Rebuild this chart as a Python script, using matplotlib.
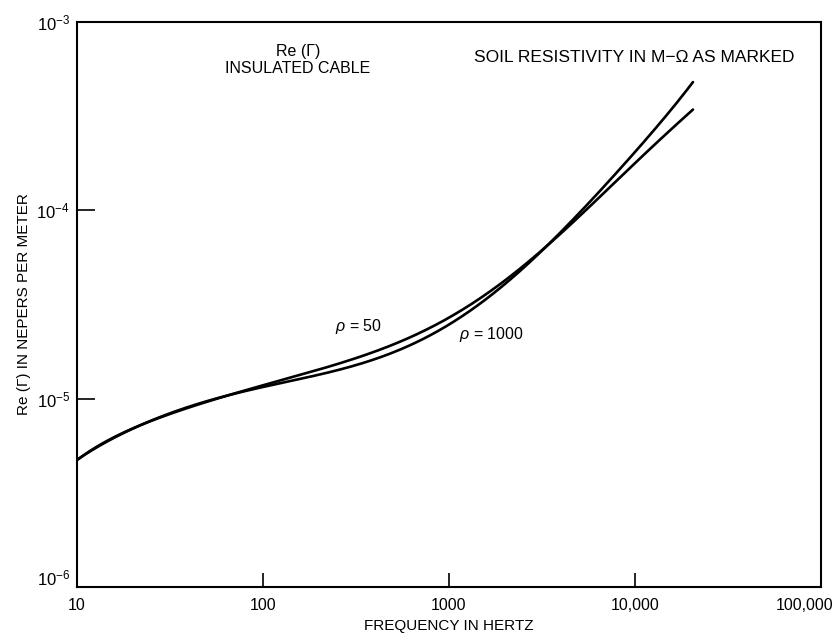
import numpy as np
import matplotlib
matplotlib.use("Agg")
from matplotlib import pyplot
from matplotlib.transforms import ScaledTranslation

# values
freq_common = [10, 13.8, 21, 31.6, 47.5, 72.4, 109]
gamma_common = [4.72e-6, 5.81e-6, 7.06e-6, 8.39e-6, 9.48e-6, 1.07e-5, 1.18e-5]

freq_rho50 = [123, 186, 283, 426, 640, 861, 1346, 2050, 2725, 3490, 5060, 9400, 14150, 20500]
gamma_rho50 = [1.26e-5, 1.42e-5, 1.60e-5, 1.81e-5, 2.10e-5, 2.52e-5, 3.26e-5,
               4.26e-5, 5.31e-5, 6.95e-5, 9.33e-5, 1.64e-4, 2.51e-4, 3.41e-4]

freq_rho1000 = [123, 186, 283, 426, 640, 895, 1346, 2050, 2725, 3490, 5060, 9400, 14150, 20500]
gamma_rho1000 = [1.21e-5, 1.33e-5, 1.47e-5, 1.64e-5, 1.88e-5, 2.40e-5, 3.03e-5,
                 4.16e-5, 5.2e-5, 6.95e-5, 9.44e-5, 1.94e-4, 3.02e-4, 4.8e-4]

x_ticks = [10, 100, 1000, 10000, 100000]
x_tick_labels = ["10", "100", "1000", "10,000", "100,000"]
y_ticks = [1e-6, 1e-5, 1e-4, 1e-3]
y_tick_labels = ["$10^{-6}$", "$10^{-5}$", "$10^{-4}$", "$10^{-3}$"]

pyplot.rcParams["font.family"] = ["Liberation Sans", "DejaVu Sans"]
pyplot.rcParams["mathtext.fontset"] = "custom"
pyplot.rcParams["mathtext.rm"] = "Liberation Sans"
pyplot.rcParams["mathtext.it"] = "Liberation Sans:italic"

fig = pyplot.figure(figsize=(8.34, 6.38), dpi=100)
ax = fig.add_axes([0.0923, 0.0799, 0.8921, 0.8856])


def smooth(fx, fy, deg=7):
    # least-squares smoothing of the hand-read points in log-log space
    lx = np.log10(fx)
    ly = np.log10(fy)
    t = np.linspace(lx[0], lx[-1], 400)
    coeffs = np.polyfit(lx, ly, deg)
    return 10 ** t, 10 ** np.polyval(coeffs, t)


for fr, ga in ((freq_rho50, gamma_rho50), (freq_rho1000, gamma_rho1000)):
    sx, sy = smooth(freq_common + fr, gamma_common + ga)
    ax.plot(sx, sy, color="black", lw=1.9, solid_capstyle="round")

ax.set_xscale("log")
ax.set_yscale("log")
ax.set_xlim(10, 100000)
ax.set_ylim(1e-6, 1e-3)

ax.set_xticks(x_ticks)
ax.set_xticklabels(x_tick_labels, fontsize=11.5)
ax.set_yticks(y_ticks)
ax.set_yticklabels(y_tick_labels, fontsize=12)
ax.minorticks_off()
ax.tick_params(axis="x", direction="in", length=10, width=1.2, pad=8)
ax.tick_params(axis="y", direction="in", length=13, width=1.2, pad=5)
for spine in ax.spines.values():
    spine.set_linewidth(1.5)

xlabels = ax.get_xticklabels()
xlabels[-1].set_transform(xlabels[-1].get_transform()
                          + ScaledTranslation(-0.16, 0, fig.dpi_scale_trans))
ylabels = ax.get_yticklabels()
ylabels[0].set_transform(ylabels[0].get_transform()
                         + ScaledTranslation(0, 0.1, fig.dpi_scale_trans))

ax.set_xlabel("FREQUENCY IN HERTZ", fontsize=11, labelpad=4)
ax.set_ylabel("Re (Γ) IN NEPERS PER METER", fontsize=11, labelpad=4)

ax.text(0.297, 0.905, "Re (Γ)\nINSULATED CABLE", transform=ax.transAxes,
        ha="center", va="bottom", fontsize=11.5, linespacing=1.15)
ax.text(0.964, 0.937, "SOIL RESISTIVITY IN M−Ω AS MARKED", transform=ax.transAxes,
        ha="right", va="center", fontsize=12.5)
ax.text(244, 2.43e-5, "$\\it{\\rho}$ = 50", fontsize=11.5, ha="left", va="center")
ax.text(1132, 2.2e-5, "$\\it{\\rho}$ = 1000", fontsize=11.5, ha="left", va="center")

fig.savefig("out.png", dpi=100)
